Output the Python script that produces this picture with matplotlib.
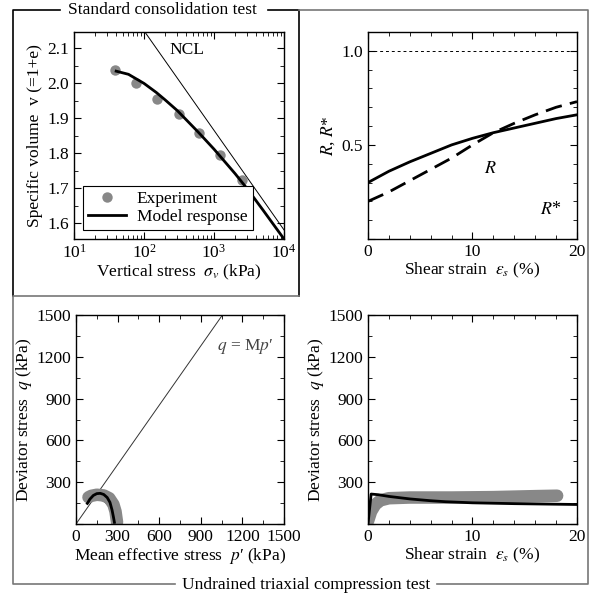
import numpy as np
import matplotlib
matplotlib.use("Agg")
import matplotlib.pyplot as plt
from matplotlib.ticker import MultipleLocator, LogLocator, NullFormatter, FuncFormatter

plt.rcParams['font.family'] = ['Liberation Serif', 'DejaVu Serif']
plt.rcParams['mathtext.fontset'] = 'stix'
plt.rcParams['font.size'] = 11

# ---- data: standard consolidation test ----
exp_sigma = [38, 77, 155, 313, 617, 1220, 2480]
exp_v = [2.038, 2.000, 1.956, 1.912, 1.858, 1.795, 1.724]
mod_sigma = [40, 60, 100, 150, 200, 300, 600, 1000, 2000, 3000, 5000, 10000]
mod_v = [2.035, 2.026, 2.000, 1.974, 1.953, 1.922, 1.860, 1.812, 1.742, 1.698, 1.638, 1.555]
ncl_sigma = [103, 10000]
ncl_v = [2.147, 1.581]

# ---- data: R, R* vs shear strain ----
strain_r = [0, 2, 4, 6, 8, 10, 12, 14, 16, 18, 20]
R = [0.30, 0.36, 0.41, 0.455, 0.50, 0.535, 0.565, 0.59, 0.615, 0.64, 0.66]
Rstar = [0.20, 0.25, 0.31, 0.37, 0.43, 0.50, 0.565, 0.615, 0.66, 0.70, 0.73]

# ---- data: undrained triaxial p'-q ----
exp_p = [90, 110, 150, 200, 240, 270, 285, 292, 296]
exp_q = [192, 202, 210, 205, 185, 140, 90, 40, 12]
mod_p = [82, 100, 125, 150, 175, 200, 225, 245, 260, 270, 277]
mod_q = [148, 178, 205, 218, 220, 212, 190, 155, 100, 50, 12]
csl_p = [0, 1056]
csl_q = [0, 1500]

# ---- data: q vs shear strain ----
exp_eps = [0, 0.3, 0.7, 1.2, 2, 4, 8, 12, 16, 18.1]
exp_qs = [20, 90, 140, 170, 185, 190, 190, 193, 200, 203]
mod_eps = [0, 0.3, 1, 2, 4, 6, 7.4, 10, 14, 20]
mod_qs = [0, 215, 210, 198, 180, 167, 160, 152, 146, 140]

W, H = 592, 593
fig = plt.figure(figsize=(W / 100, H / 100), dpi=100)

def rect(l, t, r, b):
    return [l / W, (H - b) / H, (r - l) / W, (b - t) / H]

def style(ax):
    ax.tick_params(which='both', direction='in', top=True, right=True)
    ax.tick_params(which='major', length=5, width=0.8, labelsize=12.5)
    ax.tick_params(which='minor', length=3, width=0.6)
    for s in ax.spines.values():
        s.set_linewidth(1.0)

no_zero = FuncFormatter(lambda v, pos: '' if abs(v) < 1e-9 else f'{v:.0f}')

gray = '#888888'

# Top-left
ax1 = fig.add_axes(rect(74, 32, 284, 239))
ax1.set_xscale('log')
ax1.set_xlim(10, 1e4)
ax1.set_ylim(1.555, 2.147)
ax1.plot(ncl_sigma, ncl_v, color='black', lw=0.7)
ax1.plot(exp_sigma, exp_v, 'o', color=gray, ms=7.5, mec='none', label='Experiment')
ax1.plot(mod_sigma, mod_v, color='black', lw=2.0, label='Model response')
ax1.text(410, 2.095, 'NCL', fontsize=12.5, ha='center', va='center')
ax1.yaxis.set_major_locator(MultipleLocator(0.1))
ax1.yaxis.set_minor_locator(MultipleLocator(0.05))
ax1.xaxis.set_major_locator(LogLocator(base=10, numticks=10))
ax1.xaxis.set_minor_locator(LogLocator(base=10, subs=np.arange(2, 10), numticks=10))
ax1.xaxis.set_minor_formatter(NullFormatter())
ax1.set_xlabel(r'Vertical stress  $\sigma_v$ (kPa)', fontsize=12.5, labelpad=1)
ax1.set_ylabel('Specific volume  v (=1+e)', fontsize=12.5, labelpad=3)
style(ax1)
leg = ax1.legend(loc='lower left', bbox_to_anchor=(0.043, 0.043), borderaxespad=0,
                 fancybox=False, edgecolor='black', framealpha=1, fontsize=12.5,
                 handlelength=2.2, borderpad=0.3, labelspacing=0.1, handletextpad=0.6)
leg.get_frame().set_linewidth(0.8)

# Top-right
ax2 = fig.add_axes(rect(368, 32, 577, 239))
ax2.set_xlim(0, 20)
ax2.set_ylim(0, 1.1)
ax2.axhline(1.0, color='black', lw=0.7, dashes=(3, 3))
ax2.plot(strain_r, R, color='black', lw=2.0)
ax2.plot(strain_r, Rstar, color='black', lw=2.0, dashes=(6, 3))
ax2.text(11.7, 0.372, r'$R$', fontsize=13, ha='center', va='center')
ax2.text(17.5, 0.158, r'$R$*', fontsize=13, ha='center', va='center')
ax2.xaxis.set_major_locator(MultipleLocator(10))
ax2.xaxis.set_minor_locator(MultipleLocator(2))
ax2.yaxis.set_major_locator(MultipleLocator(0.5))
ax2.yaxis.set_minor_locator(MultipleLocator(0.1))
ax2.yaxis.set_major_formatter(FuncFormatter(lambda v, pos: '' if abs(v) < 1e-9 else f'{v:.1f}'))
ax2.set_xlabel(r'Shear strain  $\varepsilon_s$ (%)', fontsize=12.5, labelpad=1)
ax2.set_ylabel(r'$R$, $R$*', fontsize=12.5, labelpad=3)
style(ax2)

# Bottom-left
ax3 = fig.add_axes(rect(76, 315, 284, 524))
ax3.set_xlim(0, 1500)
ax3.set_ylim(0, 1500)
ax3.plot(csl_p, csl_q, color='#333333', lw=0.7)
ax3.plot(exp_p, exp_q, color=gray, lw=9, solid_capstyle='round', solid_joinstyle='round')
ax3.plot(mod_p, mod_q, color='black', lw=2.0)
ax3.text(1217, 1273, r"$q$ = M$p$′", fontsize=12.5, ha='center', va='center', color='#444444')
ax3.xaxis.set_major_locator(MultipleLocator(300))
ax3.xaxis.set_minor_locator(MultipleLocator(150))
ax3.yaxis.set_major_locator(MultipleLocator(300))
ax3.yaxis.set_minor_locator(MultipleLocator(150))
ax3.yaxis.set_major_formatter(no_zero)
ax3.set_xlabel(r"Mean effective stress  $p$′ (kPa)", fontsize=12.5, labelpad=1)
ax3.set_ylabel(r'Deviator stress  $q$ (kPa)', fontsize=12.5, labelpad=2)
style(ax3)

# Bottom-right
ax4 = fig.add_axes(rect(368, 315, 577, 524))
ax4.set_xlim(0, 20)
ax4.set_ylim(0, 1500)
ax4.plot(exp_eps, exp_qs, color=gray, lw=9, solid_capstyle='round', solid_joinstyle='round')
ax4.plot(mod_eps, mod_qs, color='black', lw=2.0)
ax4.xaxis.set_major_locator(MultipleLocator(10))
ax4.xaxis.set_minor_locator(MultipleLocator(2))
ax4.yaxis.set_major_locator(MultipleLocator(300))
ax4.yaxis.set_minor_locator(MultipleLocator(150))
ax4.yaxis.set_major_formatter(no_zero)
ax4.set_xlabel(r'Shear strain  $\varepsilon_s$ (%)', fontsize=12.5, labelpad=1)
ax4.set_ylabel(r'Deviator stress  $q$ (kPa)', fontsize=12.5, labelpad=2)
style(ax4)

# Frame overlay (pixel coordinates)
ov = fig.add_axes([0, 0, 1, 1], zorder=-1)
ov.set_xlim(0, W)
ov.set_ylim(H, 0)
ov.axis('off')
fc = '#777777'
ov.plot([60, 13, 13], [10, 10, 296], color='black', lw=1.2)
ov.plot([268, 299, 299], [10, 10, 296], color='black', lw=1.2)
ov.plot([299, 588, 588, 437], [10, 10, 584, 584], color=fc, lw=1.2)
ov.plot([175, 13, 13, 299], [584, 584, 296, 296], color=fc, lw=1.2)
ov.text(162, 10, 'Standard consolidation test', ha='center', va='center', fontsize=12.5)
ov.text(306, 585, 'Undrained triaxial compression test', ha='center', va='center', fontsize=12.5)

fig.savefig('out.png', dpi=100)
